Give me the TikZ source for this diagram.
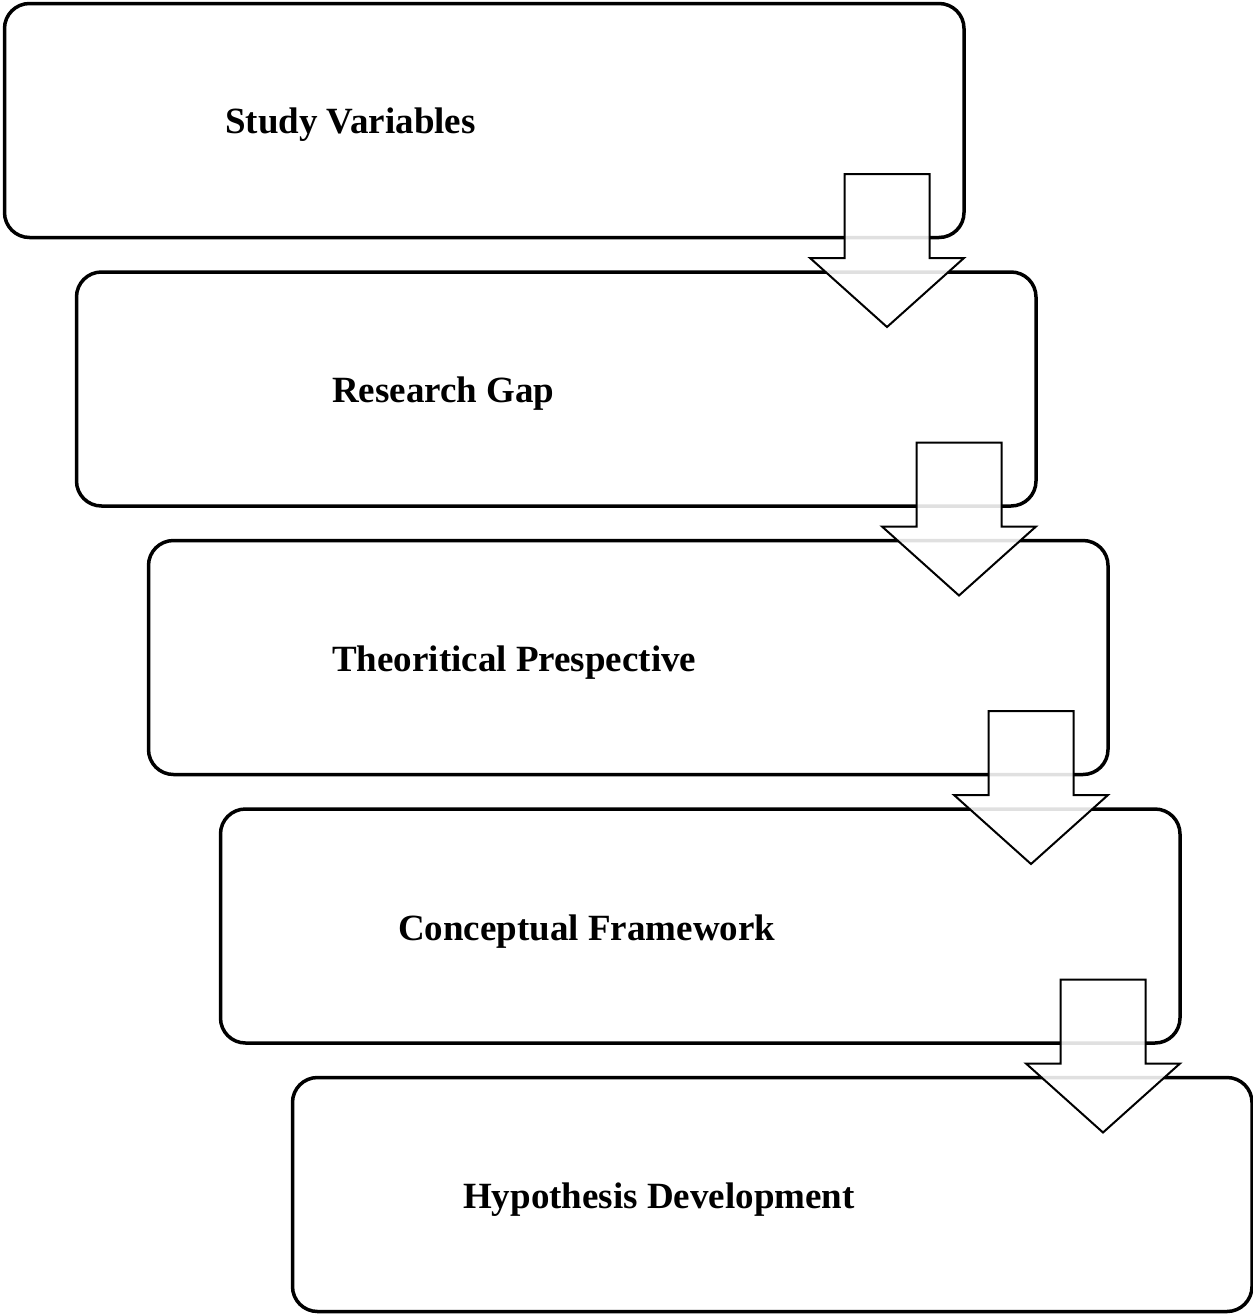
\documentclass[tikz,border=0pt]{standalone}
\usepackage{fontspec}
\setmainfont{Liberation Serif}
\usetikzlibrary{calc}
\tikzset{
  stagebox/.style={draw=black, line width=3.5pt, rounded corners=25pt, fill=white,
    rectangle, minimum width=959.5pt, minimum height=234pt, inner sep=0pt, outer sep=0pt,
    anchor=north west},
  stagetext/.style={anchor=base west, inner sep=0pt,
    font=\fontsize{37}{44}\selectfont\bfseries},
  blockarrow/.style={draw=black, line width=2pt, fill=white, fill opacity=0.88, line join=miter},
  pics/downarrow/.style={code={
    \path[blockarrow] (-42.5,0) -- (42.5,0) -- (42.5,-84) -- (77,-84) -- (0,-153)
      -- (-77,-84) -- (-42.5,-84) -- cycle;
  }}
}
\begin{document}
\begin{tikzpicture}[x=1pt,y=1pt]
\useasboundingbox (0,0) rectangle (1253,-1315);
% stage boxes, each shifted right and down from the one before
\node[stagebox] (b1) at (4.5,-3.5) {};
\node[stagebox] (b2) at (76.5,-272) {};
\node[stagebox] (b3) at (148.5,-540.5) {};
\node[stagebox] (b4) at (220.5,-809) {};
\node[stagebox] (b5) at (292.5,-1077.5) {};
% labels
\node[stagetext] (t1) at (225,-133) {Study Variables};
\node[stagetext] (t2) at (332,-402) {Research Gap};
\node[stagetext] (t3) at (332,-671) {Theoritical Prespective};
\node[stagetext] (t4) at (398,-940) {Conceptual Framework};
\node[stagetext] (t5) at (463,-1208) {Hypothesis Development};
% block arrows linking consecutive stages
\coordinate (a1) at ($(b1.south east)+(-77,63.5)$);
\coordinate (a2) at ($(b2.south east)+(-77,63.5)$);
\coordinate (a3) at ($(b3.south east)+(-77,63.5)$);
\coordinate (a4) at ($(b4.south east)+(-77,63.5)$);
\pic at (a1) {downarrow};
\pic at (a2) {downarrow};
\pic at (a3) {downarrow};
\pic at (a4) {downarrow};
\end{tikzpicture}
\end{document}
